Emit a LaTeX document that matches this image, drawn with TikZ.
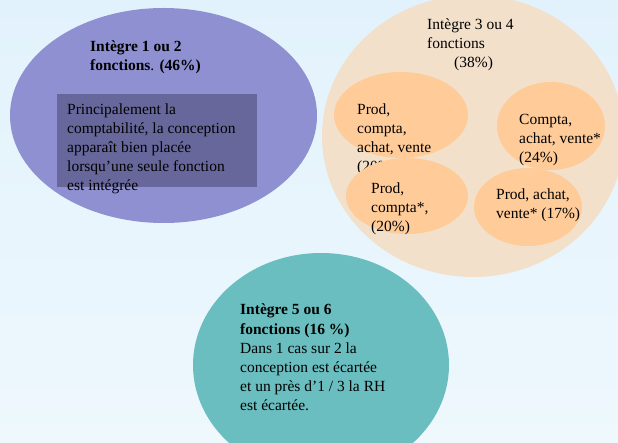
\documentclass[tikz,border=0pt]{standalone}
\usepackage{fontspec}
\setmainfont{Liberation Serif}
\usetikzlibrary{shapes.geometric}
\definecolor{bgtop}{HTML}{E2F2FC}
\definecolor{bgbot}{HTML}{EEF8FD}
\definecolor{blueell}{HTML}{8E90D2}
\definecolor{bluerect}{HTML}{67679C}
\definecolor{peachbig}{HTML}{F3E0CB}
\definecolor{peachsmall}{HTML}{FFCC99}
\definecolor{tealell}{HTML}{6ABEBF}
\newcommand\lns[1]{\begin{tabular}[t]{@{}l@{}}#1\end{tabular}}
\tikzset{
  blob/.style={ellipse, draw=none, inner sep=0pt},
  txt/.style={anchor=base west, inner sep=0pt, text=black,
    font=\fontsize{15.5}{19}\selectfont}
}
\begin{document}
\begin{tikzpicture}[x=1pt,y=-1pt]
\useasboundingbox (0,0) rectangle (618,443);
\shade[top color=bgtop, bottom color=bgbot] (0,0) rectangle (618,443);
\begin{scope}
\clip (0,0) rectangle (618,443);
% blue ellipse
\node[blob, fill=blueell, minimum width=307pt, minimum height=215pt] (blue) at (163.5,115.5) {};
\node[fill=bluerect, inner sep=0pt, minimum width=200pt, minimum height=93pt, anchor=north west] (rect) at (57,94) {};
\node[txt] (bluetitle) at (90,52) {\lns{\textbf{Intègre 1 ou 2}\\\textbf{fonctions}. \textbf{(46\%)}}};
\node[txt] (bluebody) at (67,115) {\lns{Principalement la\\comptabilité, la conception\\apparaît bien placée\\lorsqu’une seule fonction\\est intégrée}};
% peach big ellipse
\node[blob, fill=peachbig, minimum width=302pt, minimum height=282pt] (peach) at (473,136) {};
\node[txt] (peachtitle) at (427,30) {\lns{Intègre 3 ou 4\\fonctions\\\hspace{27pt}(38\%)}};
% small ellipses
\node[blob, fill=peachsmall, minimum width=134pt, minimum height=86pt] (e1) at (401,115) {};
\node[txt] (t1) at (357,115) {\lns{Prod,\\compta,\\achat, vente\\(20\%)}};
\node[blob, fill=peachsmall, minimum width=122pt, minimum height=76pt] (e3) at (407,196) {};
\node[txt] (t3) at (371,194) {\lns{Prod,\\compta*,\\(20\%)}};
\node[blob, fill=peachsmall, minimum width=108pt, minimum height=88pt] (e2) at (551,126) {};
\node[txt] (t2) at (519,125) {\lns{Compta,\\achat, vente*\\(24\%)}};
\node[blob, fill=peachsmall, minimum width=108pt, minimum height=78pt] (e4) at (528,207) {};
\node[txt] (t4) at (496,200) {\lns{Prod, achat,\\vente* (17\%)}};
% teal ellipse
\node[blob, fill=tealell, minimum width=256pt, minimum height=224pt] (teal) at (321,365) {};
\node[txt, font=\fontsize{15.5}{19.2}\selectfont] (tealtext) at (240,315) {\lns{\textbf{Intègre 5 ou 6}\\\textbf{fonctions (16 \%)}\\Dans 1 cas sur 2 la\\conception est écartée\\et un près d’1 / 3 la RH\\est écartée.}};
\end{scope}
\end{tikzpicture}
\end{document}
